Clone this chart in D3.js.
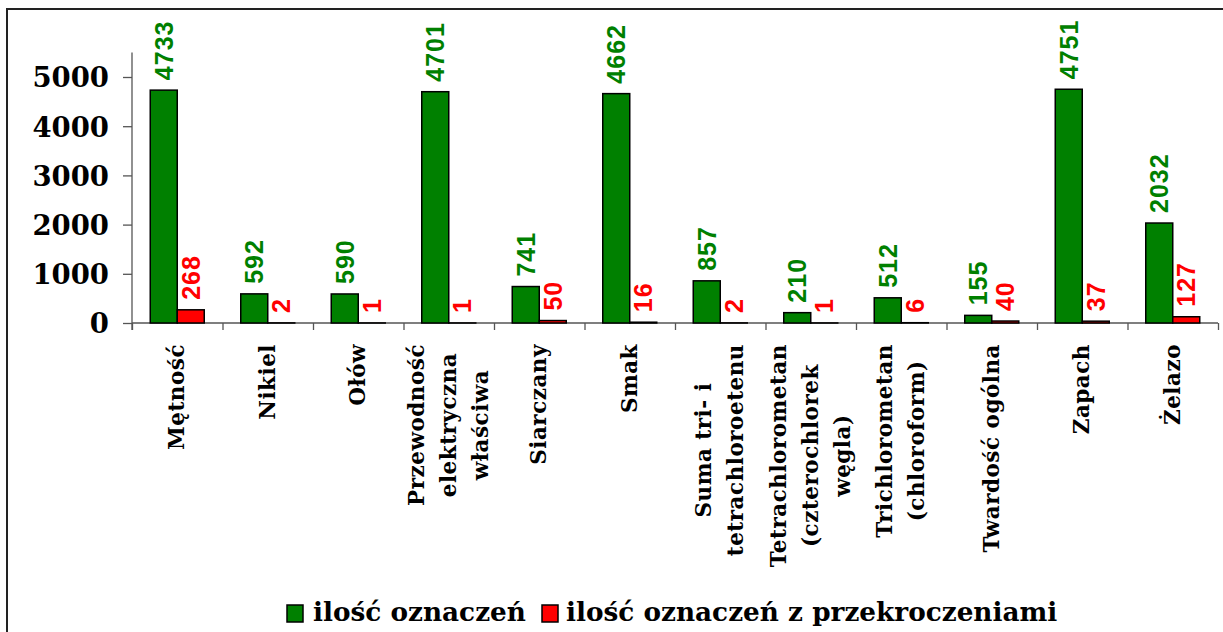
<!DOCTYPE html>
<html>
<head>
<meta charset="utf-8">
<script src="https://cdn.jsdelivr.net/npm/d3@7"></script>
<style>
  html, body { margin: 0; padding: 0; background: #fff; }
  svg { display: block; }
</style>
</head>
<body>
<svg id="chart" width="1223" height="632"></svg>
<script>
// Parameters tested, with the line breaks used for the rotated axis labels
const categories = [
  "Mętność",
  "Nikiel",
  "Ołów",
  "Przewodność\nelektryczna\nwłaściwa",
  "Siarczany",
  "Smak",
  "Suma tri- i\ntetrachloroetenu",
  "Tetrachlorometan\n(czterochlorek\nwęgla)",
  "Trichlorometan\n(chloroform)",
  "Twardość ogólna",
  "Zapach",
  "Żelazo"
];
const totalTests    = [4733, 592, 590, 4701, 741, 4662, 857, 210, 512, 155, 4751, 2032];
const exceededTests = [268, 2, 1, 1, 50, 16, 2, 1, 6, 40, 37, 127];
const seriesNames   = ["ilość oznaczeń", "ilość oznaczeń z przekroczeniami"];
const seriesColors  = ["#008000", "#ff0000"];
const yTicks        = [0, 1000, 2000, 3000, 4000, 5000];
const yMax          = 5500;

const svg = d3.select("#chart");
const serif = "'DejaVu Serif', serif";
const sans = "'Liberation Sans', Arial, sans-serif";

// Outer frame (top and left edges visible)
svg.append("path")
  .attr("d", "M7,640 L7,9 L1230,9")
  .attr("fill", "none")
  .attr("stroke", "#222")
  .attr("stroke-width", 2);

const plot = { left: 132, right: 1218, top: 52.4, bottom: 323 };

const x = d3.scaleBand()
  .domain(d3.range(categories.length))
  .range([plot.left, plot.right])
  .paddingInner(0).paddingOuter(0);

const bw = x.bandwidth();
const inner = d3.scaleBand()
  .domain([0, 1])
  .range([bw * 0.2017, bw * 0.7983]);

const y = d3.scaleLinear().domain([0, yMax]).range([plot.bottom, plot.top]);

// Y axis
const yAxis = svg.append("g")
  .attr("transform", `translate(${plot.left},0)`)
  .call(d3.axisLeft(y).tickValues(yTicks).tickSize(9).tickPadding(14).tickFormat(d3.format("d")));
yAxis.select(".domain").attr("stroke", "#555").attr("stroke-width", 1.3).attr("d", `M0,${plot.top}V${plot.bottom + 7}`);
yAxis.selectAll(".tick line").attr("stroke", "#555").attr("stroke-width", 1.3);
yAxis.selectAll(".tick text")
  .attr("font-family", serif)
  .attr("font-weight", "bold")
  .attr("font-size", 27.5)
  .attr("fill", "#000")
  .attr("dy", "0.36em");

// X axis: line with tick marks at the category boundaries
const boundaries = d3.range(categories.length + 1);
const xb = d3.scaleLinear().domain([0, categories.length]).range([plot.left, plot.right]);
const xAxis = svg.append("g")
  .attr("transform", `translate(0,${plot.bottom})`)
  .call(d3.axisBottom(xb).tickValues(boundaries).tickSize(7).tickFormat(""));
xAxis.select(".domain").attr("stroke", "#555").attr("stroke-width", 1.3).attr("d", `M${plot.left},0H${plot.right}`);
xAxis.selectAll(".tick line").attr("stroke", "#555").attr("stroke-width", 1.3);

// Bars
const series = [totalTests, exceededTests];
series.forEach((vals, s) => {
  svg.append("g").selectAll("rect")
    .data(vals)
    .join("rect")
    .attr("x", (d, i) => x(i) + inner(s))
    .attr("y", d => y(d))
    .attr("width", inner.bandwidth())
    .attr("height", d => y(0) - y(d))
    .attr("fill", seriesColors[s])
    .attr("stroke", "#000")
    .attr("stroke-width", 1.5);
});

// Value labels above the bars
series.forEach((vals, s) => {
  svg.append("g").selectAll("text")
    .data(vals)
    .join("text")
    .attr("transform", (d, i) => {
      const cx = x(i) + inner(s) + inner.bandwidth() / 2 + 9;
      return `translate(${cx},${y(d) - 10}) rotate(-90)`;
    })
    .attr("text-anchor", "start")
    .attr("font-family", sans)
    .attr("font-weight", "bold")
    .attr("font-size", 25)
    .attr("letter-spacing", 1)
    .attr("fill", seriesColors[s])
    .text(d => d);
});

// Category labels, rotated, top-aligned with lines centred on each other
const labelTop = 344;
const lineStep = 32;
const catG = svg.append("g");
categories.forEach((name, i) => {
  const lines = name.split("\n");
  const g = catG.append("g");
  const texts = lines.map((ln, k) => g.append("text")
    .attr("font-family", serif)
    .attr("font-weight", "bold")
    .attr("font-size", 21.5)
    .attr("letter-spacing", 0.5)
    .attr("fill", "#000")
    .attr("text-anchor", "middle")
    .text(ln));
  const maxLen = d3.max(texts, t => t.node().getComputedTextLength());
  const cx = x(i) + bw / 2;
  texts.forEach((t, k) => {
    const lx = cx + (k - (lines.length - 1) / 2) * lineStep + 7;
    t.attr("transform", `translate(${lx},${labelTop + maxLen / 2}) rotate(-90)`);
  });
});

// Legend
const legend = svg.append("g");
const legendItems = [
  { box: 287, text: 313 },
  { box: 542, text: 566 }
];
legendItems.forEach((it, s) => {
  legend.append("rect")
    .attr("x", it.box).attr("y", 605)
    .attr("width", 16).attr("height", 17)
    .attr("fill", seriesColors[s])
    .attr("stroke", "#000")
    .attr("stroke-width", 1.5);
  legend.append("text")
    .attr("x", it.text).attr("y", 621)
    .attr("font-family", serif)
    .attr("font-weight", "bold")
    .attr("font-size", 26.3)
    .attr("fill", "#000")
    .text(seriesNames[s]);
});
</script>
</body>
</html>
